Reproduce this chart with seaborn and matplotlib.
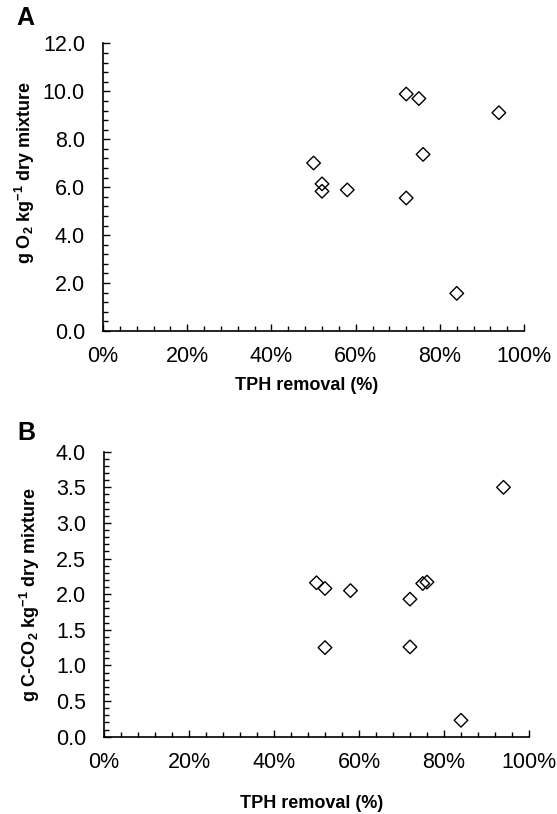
import matplotlib
matplotlib.use("Agg")
import matplotlib.pyplot as plt
import seaborn as sns
import pandas as pd
from matplotlib.ticker import MultipleLocator, PercentFormatter, FormatStrFormatter

# TPH removal (%) and consumption / production per dry mixture
tph_removal = [72, 75, 94, 76, 50, 52, 52, 58, 72, 84]
o2_consumed = [9.89, 9.70, 9.11, 7.37, 7.01, 6.14, 5.83, 5.89, 5.55, 1.57]

tph_removal_b = [94, 50, 52, 58, 75, 76, 72, 52, 72, 84]
co2_produced = [3.50, 2.16, 2.08, 2.05, 2.15, 2.17, 1.93, 1.25, 1.26, 0.23]

sns.set_style("ticks")
plt.rcParams['font.family'] = ['Liberation Sans', 'DejaVu Sans']
plt.rcParams['mathtext.fontset'] = 'custom'
plt.rcParams['mathtext.rm'] = 'Liberation Sans:bold'
plt.rcParams['mathtext.bf'] = 'Liberation Sans:bold'
for key in ['text.color', 'axes.labelcolor', 'xtick.color', 'ytick.color']:
    plt.rcParams[key] = 'black'

df_a = pd.DataFrame({'tph': tph_removal, 'val': o2_consumed})
df_b = pd.DataFrame({'tph': tph_removal_b, 'val': co2_produced})

fig = plt.figure(figsize=(5.57, 8.14), dpi=100)
ax_a = fig.add_axes([0.185, 0.5934, 0.756, 0.3532])
ax_b = fig.add_axes([0.1867, 0.0950, 0.763, 0.3501])


def style_axis(ax, df, ymax, ymajor, yminor, ylabel, ylab_xy, xlab_xy):
    sns.scatterplot(data=df, x='tph', y='val', ax=ax, marker='D', s=48,
                    facecolor='none', edgecolor='black', linewidth=1.0)
    ax.set_xlim(0, 100)
    ax.set_ylim(0, ymax)
    ax.xaxis.set_major_locator(MultipleLocator(20))
    ax.xaxis.set_minor_locator(MultipleLocator(4))
    ax.xaxis.set_major_formatter(PercentFormatter(xmax=100, decimals=0))
    ax.yaxis.set_major_locator(MultipleLocator(ymajor))
    ax.yaxis.set_minor_locator(MultipleLocator(yminor))
    ax.yaxis.set_major_formatter(FormatStrFormatter('%.1f'))
    ax.tick_params(which='both', direction='in', width=1, color='black',
                   labelsize=15.5)
    ax.tick_params(axis='x', pad=11)
    ax.tick_params(axis='y', pad=13)
    ax.tick_params(which='major', length=5)
    ax.tick_params(which='minor', length=3.5)
    for sp in ['top', 'right']:
        ax.spines[sp].set_visible(False)
    for sp in ['left', 'bottom']:
        ax.spines[sp].set_linewidth(1.2)
        ax.spines[sp].set_color('black')
    ax.set_xlabel('TPH removal (%)', fontsize=13, fontweight='bold')
    ax.set_ylabel(ylabel, fontsize=13, fontweight='bold')
    ax.yaxis.set_label_coords(*ylab_xy)
    ax.xaxis.set_label_coords(*xlab_xy)


style_axis(ax_a, df_a, 12, 2, 0.4,
           r'g O$_{\mathregular{2}}$ kg$^{\mathregular{-1}}$ dry mixture',
           (-0.185, 0.55), (0.483, -0.188))
style_axis(ax_b, df_b, 4, 0.5, 0.1,
           r'g C-CO$_{\mathregular{2}}$ kg$^{\mathregular{-1}}$ dry mixture',
           (-0.174, 0.5), (0.489, -0.233))
ax_a.yaxis.label.set_va('center')
ax_b.yaxis.label.set_va('center')
ax_a.xaxis.label.set_va('center')
ax_b.xaxis.label.set_va('center')

fig.text(0.030, 0.963, 'A', fontsize=18, fontweight='bold', va='bottom')
fig.text(0.032, 0.453, 'B', fontsize=18, fontweight='bold', va='bottom')

fig.savefig('out.png', dpi=100)
